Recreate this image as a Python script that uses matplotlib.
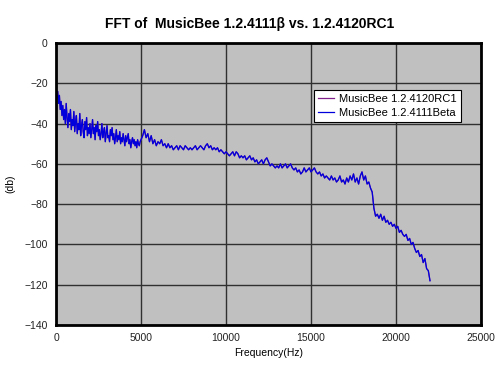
import matplotlib.pyplot as plt
import numpy as np

plt.rcParams['font.family'] = ['Liberation Sans', 'DejaVu Sans']

# spectrum levels (dB), 0-5000 Hz read every 50 Hz
db_low = [
    -22, -27, -24, -30, -26, -33, -29, -36, -31, -38,
    -33, -40, -30, -37, -42, -35, -39, -33, -43, -38,
    -41, -34, -44, -39, -36, -45, -40, -43, -35, -46,
    -41, -38, -44, -47, -39, -43, -37, -46, -42, -45,
    -40, -47, -43, -38, -45, -42, -48, -41, -44, -39,
    -46, -43, -48, -45, -40, -47, -44, -42, -49, -45,
    -41, -47, -46, -49, -43, -46, -42, -48, -45, -50,
    -47, -43, -49, -46, -48, -44, -50, -47, -49, -45,
    -48, -51, -46, -49, -47, -45, -50, -48, -52, -49,
    -47, -50, -48, -51, -49, -52, -48, -50, -51, -49,
    -48,
]
# 5100-22000 Hz read every 100 Hz
db_high = [
    -46, -43, -47, -45, -49, -46, -50, -48, -51, -49,
    -50, -48, -51, -50, -52, -50, -52, -51, -53, -52,
    -51, -53, -51, -52, -53, -51, -52, -53, -52, -53,
    -52, -51, -53, -52, -51, -52, -53, -51, -50, -52,
    -51, -53, -52, -53, -52, -54, -53, -54, -55, -54,
    -55, -56, -55, -54, -56, -54, -55, -57, -56, -57,
    -56, -58, -57, -56, -58, -57, -59, -58, -60, -59,
    -58, -60, -58, -57, -59, -61, -60, -61, -62, -61,
    -62, -60, -62, -61, -60, -62, -61, -60, -62, -63,
    -62, -64, -63, -65, -64, -62, -64, -63, -62, -64,
    -63, -62, -64, -65, -64, -66, -65, -67, -66, -67,
    -68, -66, -68, -67, -69, -68, -66, -69, -68, -70,
    -67, -69, -66, -68, -65, -69, -67, -70, -66, -64,
    -68, -66, -70, -69, -72, -74, -82, -86, -85, -87,
    -85, -88, -86, -89, -88, -90, -89, -91, -90, -92,
    -91, -94, -93, -95, -96, -95, -98, -97, -100, -99,
    -102, -104, -103, -106, -105, -109, -107, -112, -113, -118,
]

freq = np.concatenate([np.arange(0, 5001, 50), np.arange(5100, 22001, 100)])
level = np.array(db_low + db_high)

labels = ['MusicBee 1.2.4120RC1', 'MusicBee 1.2.4111Beta']
colors = ['#80208c', '#0000dd']

fig = plt.figure(figsize=(5, 3.76), dpi=100)
ax = fig.add_axes([0.112, 0.1356, 0.85, 0.75])
ax.set_facecolor('#c0c0c0')

for lab, col in zip(labels, colors):
    ax.plot(freq, level, color=col, lw=0.9, label=lab)

ax.set_xlim(0, 25000)
ax.set_ylim(-140, 0)
ax.set_xticks(np.arange(0, 25001, 5000))
ax.set_yticks(np.arange(-140, 1, 20))
ax.grid(True, color='#303030', lw=1.0)
ax.set_axisbelow(True)
ax.tick_params(length=0, labelsize=7.5, pad=6, labelcolor='#222222')
for s in ax.spines.values():
    s.set_linewidth(2)
    s.set_color('black')

ax.set_xlabel('Frequency(Hz)', fontsize=7.5, labelpad=3)
ax.set_ylabel('(db)', fontsize=7.5, labelpad=6)
fig.suptitle('FFT of  MusicBee 1.2.4111\u03b2 vs. 1.2.4120RC1',
             fontsize=10, fontweight='bold', y=0.955)

leg = ax.legend(loc='upper right', bbox_to_anchor=(0.965, 0.853), fontsize=8,
                fancybox=False, framealpha=1, edgecolor='black',
                borderpad=0.35, handlelength=1.4, handletextpad=0.5,
                labelspacing=0.35)
leg.get_frame().set_linewidth(0.8)

fig.savefig('out.png', dpi=100)
